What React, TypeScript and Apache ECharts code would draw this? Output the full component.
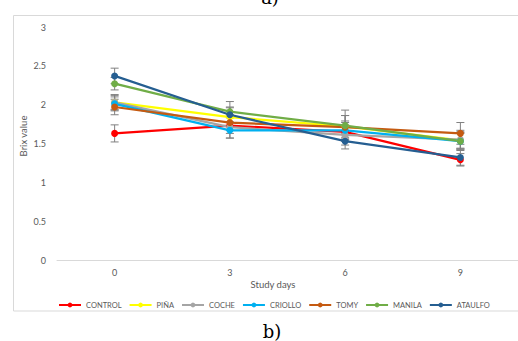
import React, { useEffect, useRef } from "react";
import * as echarts from "echarts";

const days = ["0", "3", "6", "9"];
const seriesNames = ["CONTROL", "PIÑA", "COCHE", "CRIOLLO", "TOMY", "MANILA", "ATAULFO"];
const colors = ["#FF0000", "#FFFF00", "#A5A5A5", "#00B0F0", "#C55A11", "#70AD47", "#255E91"];
const control = [1.63, 1.73, 1.65, 1.29];
const pina = [2.03, 1.84, 1.72, 1.54];
const coche = [2.03, 1.71, 1.61, 1.55];
const criollo = [2.01, 1.67, 1.67, 1.53];
const tomy = [1.97, 1.77, 1.71, 1.63];
const manila = [2.27, 1.91, 1.73, 1.53];
const ataulfo = [2.37, 1.87, 1.53, 1.32];
const values = [control, pina, coche, criollo, tomy, manila, ataulfo];
const errControl = [0.11, 0.1, 0.12, 0.08];
const errPina = [0.1, 0.12, 0.14, 0.1];
const errCoche = [0.09, 0.14, 0.13, 0.12];
const errCriollo = [0.09, 0.1, 0.12, 0.1];
const errTomy = [0.1, 0.1, 0.15, 0.14];
const errManila = [0.08, 0.13, 0.2, 0.12];
const errAtaulfo = [0.1, 0.1, 0.1, 0.1];
const errors = [errControl, errPina, errCoche, errCriollo, errTomy, errManila, errAtaulfo];

export default function App() {
  const ref = useRef<HTMLDivElement>(null);
  useEffect(() => {
    const chart = echarts.init(ref.current!, null, { renderer: "svg" });
    const errorSeries = values.map((vals, si) => ({
      type: "custom",
      name: seriesNames[si] + "_err",
      z: 1,
      silent: true,
      data: vals.map((v, i) => [i, v - errors[si][i], v + errors[si][i]]),
      renderItem: (params: any, api: any) => {
        const x = api.value(0);
        const lo = api.coord([x, api.value(1)]);
        const hi = api.coord([x, api.value(2)]);
        const cw = 4;
        const st = { stroke: "#808080", lineWidth: 1 };
        return {
          type: "group",
          children: [
            { type: "line", shape: { x1: lo[0], y1: lo[1], x2: hi[0], y2: hi[1] }, style: st },
            { type: "line", shape: { x1: lo[0] - cw, y1: lo[1], x2: lo[0] + cw, y2: lo[1] }, style: st },
            { type: "line", shape: { x1: hi[0] - cw, y1: hi[1], x2: hi[0] + cw, y2: hi[1] }, style: st },
          ],
        };
      },
    }));
    const lineSeries = values.map((vals, si) => ({
      type: "line",
      name: seriesNames[si],
      data: vals,
      z: 3,
      symbol: "circle",
      symbolSize: 7,
      lineStyle: { width: 2.25, color: colors[si] },
      itemStyle: { color: colors[si] },
    }));
    chart.setOption({
      animation: false,
      grid: { left: 57, right: 0, top: 27, bottom: 81 },
      legend: {
        data: seriesNames,
        left: 53,
        top: 296,
        width: 460,
        itemWidth: 22,
        itemHeight: 6,
        itemGap: 7,
        textStyle: { fontSize: 7.5, color: "#595959", fontFamily: "Lato" },
      },
      xAxis: {
        type: "category",
        data: days,
        axisLine: { lineStyle: { color: "#D9D9D9", width: 1 } },
        axisTick: { show: false },
        axisLabel: { color: "#595959", fontSize: 9, margin: 8, fontFamily: "Lato" },
      },
      yAxis: {
        type: "value",
        min: 0,
        max: 3,
        interval: 0.5,
        splitLine: { show: false },
        axisLine: { show: false },
        axisLabel: { color: "#595959", fontSize: 9, margin: 11, fontFamily: "Lato" },
      },
      graphic: [
        {
          type: "rect",
          shape: { x: 13.5, y: 15.5, width: 520, height: 295.5 },
          style: { fill: "none", stroke: "#D9D9D9", lineWidth: 1 },
          z: -1,
        },
        {
          type: "text",
          x: 273,
          y: 284,
          style: { text: "Study days", fill: "#595959", fontSize: 9.5, fontFamily: "Lato", align: "center", verticalAlign: "middle" },
        },
        {
          type: "text",
          x: 23,
          y: 136,
          rotation: Math.PI / 2,
          style: { text: "Brix value", fill: "#595959", fontSize: 9.5, fontFamily: "Lato", align: "center", verticalAlign: "middle" },
        },
        {
          type: "text",
          x: 270,
          y: -3,
          style: { text: "a)", fill: "#000", fontSize: 18, fontFamily: "DejaVu Serif", align: "center", verticalAlign: "middle" },
        },
        {
          type: "text",
          x: 272,
          y: 331,
          style: { text: "b)", fill: "#000", fontSize: 18, fontFamily: "DejaVu Serif", align: "center", verticalAlign: "middle" },
        },
      ],
      series: [...errorSeries, ...lineSeries],
    });
    return () => chart.dispose();
  }, []);
  return <div ref={ref} style={{ position: "fixed", left: 0, top: 0, width: 518, height: 341, background: "#fff" }} />;
}
